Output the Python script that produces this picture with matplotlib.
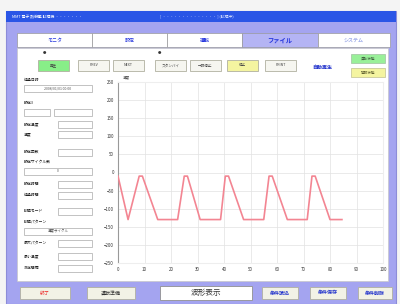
import matplotlib
matplotlib.use("Agg")
import matplotlib.pyplot as plt
from matplotlib.patches import Rectangle

plt.rcParams['font.family'] = ['Noto Sans CJK JP', 'DejaVu Sans']

# waveform (time vs temperature)
wave_x = [0, 3.8, 8.0, 9.2, 15.0, 22.5, 25.0, 26.2, 31.0, 38.7, 40.5, 41.7, 47.4, 55.0, 57.0, 58.2, 63.9, 71.4, 73.2, 74.4, 80.0, 84.5]
wave_y = [-10, -130, -10, -10, -130, -130, -10, -10, -130, -130, -10, -10, -130, -130, -10, -10, -130, -130, -10, -10, -130, -130]

x_ticks = [0, 10, 20, 30, 40, 50, 60, 70, 80, 90, 100]
y_ticks = [250, 200, 150, 100, 50, 0, -50, -100, -150, -200, -250]

tab_labels = ['モニタ', '設定', '運転', 'ファイル', 'システム']
top_buttons = ['再生', 'PREV', 'NEXT', 'スタンバイ', '一時停止', '停止', 'PRINT']
bottom_buttons = ['終了', '運転準備', '波形表示', '条件読込', '条件保存', '条件削除']

LAV = '#a4a4f0'
BLUE = '#2a55e6'

fig = plt.figure(figsize=(4, 3.04), dpi=100)
ui = fig.add_axes([0, 0, 1, 1])
ui.set_xlim(0, 400)
ui.set_ylim(304, 0)
ui.axis('off')


def box(x, y, w, h, fc='white', ec='#b8b8b8', lw=0.6, z=1):
    ui.add_patch(Rectangle((x, y), w, h, fc=fc, ec=ec, lw=lw, zorder=z))


def txt(x, y, s, size=3.2, color='#444444', **kw):
    ui.text(x, y, s, fontsize=size, color=color, ha=kw.pop('ha', 'center'),
            va='center', zorder=5, **kw)


# background + window frame
box(0, 0, 400, 304, fc='#f4f4f4', ec='none', z=0)
box(6, 11, 390, 293, fc=LAV, ec='#8c8cd8', lw=0.8)
box(6, 11, 390, 11, fc=BLUE, ec='none')
txt(12, 16.5, 'MMT 電子 熱衝撃 試験機 ・・・・・・・', size=2.8, color='white', ha='left')
txt(160, 16.5, '[ ・・・・・・・・・・・・・・ ] (試験中)', size=2.8, color='#dde4ff', ha='left')

# tabs
tab_x = [17, 92, 167, 242, 318]
tab_w = [75, 75, 75, 76, 72]
for i, lab in enumerate(tab_labels):
    fc = '#b4b4f4' if i == 3 else 'white'
    box(tab_x[i], 33, tab_w[i], 14, fc=fc, ec='#9a9a9a', lw=0.5)
    col = '#9aa8e8' if i == 4 else '#2233dd'
    weight = 'bold' if i >= 2 else 'normal'
    style = 'italic' if i == 3 else 'normal'
    txt(tab_x[i] + tab_w[i] / 2, 40, lab, size=4.5 if i == 3 else 3.6,
        color=col, fontweight=weight, fontstyle=style)

# inner white panel
box(17, 48, 371, 233, fc='white', ec='#c8c8c8', lw=0.5)

# top button row
btn_x = [38, 78, 113, 155, 190, 227, 265]
btn_fc = ['#88ee88', '#f6f6f0', '#f6f6f0', '#f6f6f0', '#f6f6f0', '#f4f4a0', '#f6f6f0']
for i, lab in enumerate(top_buttons):
    box(btn_x[i], 60, 31, 11, fc=btn_fc[i], ec='#b0b0a0', lw=0.6)
    txt(btn_x[i] + 15.5, 65.5, lab, size=2.6, color='#444444')
txt(45, 53, '●', size=2.5, color='#333333')
txt(160, 53, '●', size=2.5, color='#333333')
txt(322, 67, '自動再生', size=3.6, color='#2233cc', fontweight='bold')
box(351, 54, 34, 9, fc='#99f099', ec='#a0c0a0', lw=0.5)
txt(368, 58.5, '運転状態', size=2.6, color='#446644')
box(351, 68, 34, 9, fc='#f4f4a0', ec='#c0c090', lw=0.5)
txt(368, 72.5, '警報状態', size=2.6, color='#666633')

# left info column
rows = [
    ('label', 80, '経過日時'),
    ('wide', 88, '2008/01/01 00:00'),
    ('label', 103, '設定3'),
    ('pair', 112, ''),
    ('lbox', 124, '設定温度'),
    ('lbox', 134, '温度'),
    ('lbox', 152, '設定回数'),
    ('label', 162, '設定サイクル数'),
    ('wide', 171, '0'),
    ('lbox', 184, '設定時間'),
    ('lbox', 195, '経過時間'),
    ('lbox', 211, '試験モード'),
    ('label', 222, '試験パターン'),
    ('wide', 231, '温度サイクル'),
    ('lbox', 243, '最大パターン'),
    ('lbox', 256, '最小温度'),
    ('lbox', 268, '測定間隔'),
]
for kind, y, lab in rows:
    if kind == 'label':
        txt(24, y, lab, size=2.8, color='#222222', ha='left')
    elif kind == 'wide':
        box(24, y - 3.5, 68, 7)
        txt(58, y, lab, size=2.5, color='#555555')
    elif kind == 'pair':
        box(24, y - 3.5, 26, 7)
        box(54, y - 3.5, 38, 7)
    else:
        txt(24, y, lab, size=2.8, color='#222222', ha='left')
        box(58, y - 3.5, 34, 7)

# bottom buttons
bb_x = [20, 87, 160, 262, 310, 358]
bb_w = [50, 48, 92, 36, 36, 34]
for i, lab in enumerate(bottom_buttons):
    if i == 2:
        box(bb_x[i], 286, bb_w[i], 14, fc='white', ec='#909090', lw=0.6)
        txt(bb_x[i] + bb_w[i] / 2, 293, lab, size=5.5, color='#333333')
    else:
        box(bb_x[i], 287, bb_w[i], 12, fc='#f2f2e6', ec='#b0b0a0', lw=0.6)
        col = '#ee2222' if i == 0 else ('#333333' if i == 1 else '#2233cc')
        txt(bb_x[i] + bb_w[i] / 2, 293, lab, size=3.6, color=col,
            fontweight='bold' if i >= 3 else 'normal')

# the chart itself
ax = fig.add_axes([118 / 400, 41 / 304, 265 / 400, 181 / 304])
ax.plot(wave_x, wave_y, color='#f38592', lw=1.2, zorder=3)
ax.set_xlim(0, 100)
ax.set_ylim(-250, 250)
ax.set_xticks(x_ticks)
ax.set_yticks(y_ticks)
ax.tick_params(labelsize=3.2, colors='#333333', length=0, pad=3)
ax.grid(color='#e2e2e2', lw=0.5)
for side in ['top', 'right', 'bottom']:
    ax.spines[side].set_color('#eeeeee')
ax.spines['left'].set_color('#999999')
ax.spines['left'].set_linewidth(0.8)
ax.text(0.02, 1.02, '温度', transform=ax.transAxes, fontsize=2.6, color='#555555')

fig.savefig('out.png', dpi=100)
